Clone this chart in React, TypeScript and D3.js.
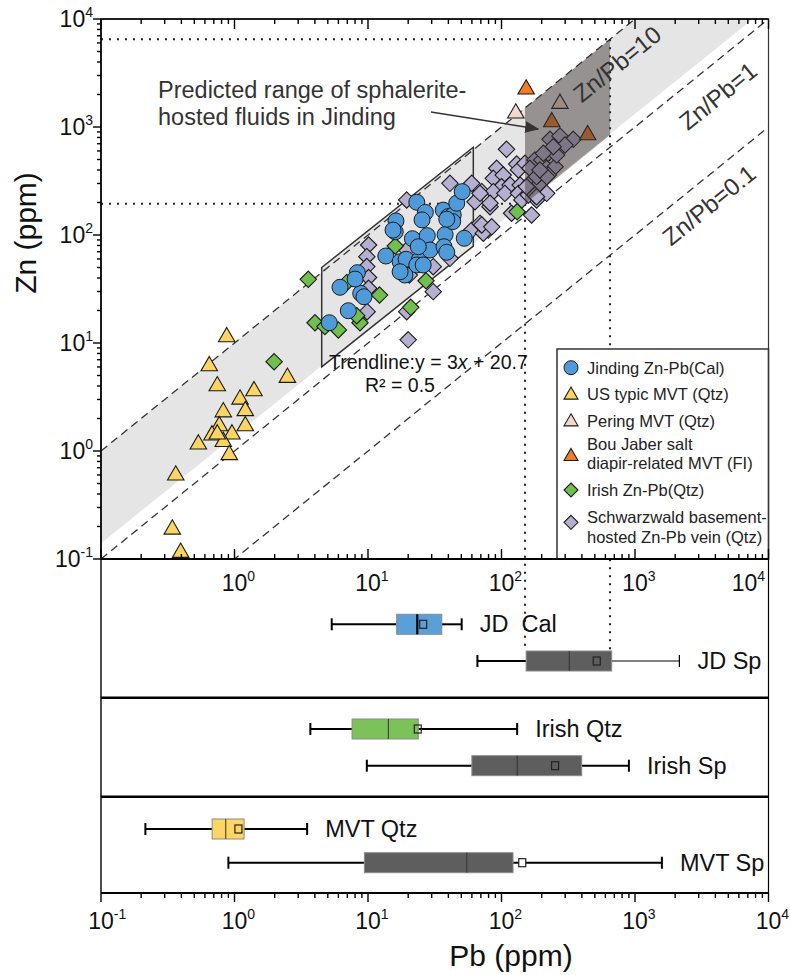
import React from 'react';
import * as d3 from 'd3';

// ---- data (ppm) ----
const jindingCal: [number, number][] = [
  [5.13, 15.4], [7.12, 19.9], [6.17, 32.8], [8.32, 44.8], [8.82, 28.8], [9.33, 26.8],
  [13.6, 63.9], [16.2, 135], [16.0, 107], [23.2, 201], [26.9, 162], [25.4, 138],
  [21.5, 92.4], [27.8, 98.6], [17.4, 56.6], [19.3, 59.6], [24.2, 58.7], [23.2, 52.8],
  [25.9, 52.8], [29.1, 72.6], [18.9, 42.6], [17.4, 45.7], [23.8, 77.9], [37.8, 101],
  [37.1, 77.9], [38.9, 69.2], [36.6, 170], [39.9, 148], [43.5, 153], [46.2, 197],
  [50.8, 252], [52.6, 93.2], [43.1, 133], [38.9, 140], [8.0, 39.1], [15.4, 111],
];
const usMvt: [number, number][] = [
  [0.874, 11.6], [0.647, 6.25], [0.743, 4.08], [1.4, 3.67], [1.1, 3.07], [0.824, 2.34],
  [1.205, 2.4], [0.769, 1.74], [1.205, 1.74], [0.678, 1.43], [0.957, 1.46], [0.824, 1.245],
  [0.536, 1.18], [0.914, 0.94], [2.49, 4.88], [0.363, 0.608], [0.342, 0.192], [0.395, 0.117],
  [0.743, 1.46],
];
const peringMvt: [number, number][] = [[128, 1368], [274, 1679]];
const bouJaber: [number, number][] = [[153, 2281], [238, 1136], [442, 861]];
const irishQtz: [number, number][] = [
  [3.57, 38.9], [6.92, 36.2], [12.2, 27.8], [16.0, 79.1], [27.2, 37.7], [20.9, 21.4],
  [4.01, 15.4], [6.0, 13.2], [8.71, 15.4], [8.23, 17.9], [1.98, 6.71], [131, 164], [4.76, 14.2],
];
const schwarzwald: [number, number][] = [
  [10.1, 80.8], [9.8, 63], [9.8, 51], [10.1, 40.4], [10.1, 32.1], [9.85, 19.5], [19.5, 72.6],
  [30.8, 50.9], [41.1, 60.8], [30.8, 29.9], [19.5, 19.5], [20.0, 10.7], [20.4, 42.6], [19.5, 211],
  [41.1, 301], [59.8, 301], [71.1, 252], [63.3, 203], [70.2, 119], [59.8, 111], [79.6, 111],
  [73.1, 104], [69.0, 128], [82.0, 183], [109, 622], [130, 454], [92, 415], [86.8, 335],
  [103, 359], [134, 400], [100, 280], [116, 290], [138, 290], [86.8, 252], [106, 243],
  [134, 243], [69.0, 243], [82.0, 197], [71.1, 124], [84.5, 119], [119, 159], [168, 153],
  [142, 211], [183, 211], [159, 235], [178, 235], [218, 243], [163, 301], [194, 301],
  [150, 461], [178, 495], [200, 495], [163, 415], [218, 415], [252, 429], [189, 359],
  [224, 359], [231, 769], [274, 826], [345, 769], [299, 681], [224, 571], [259, 550],
  [244, 657], [206, 571], [154, 280], [183, 347], [218, 347], [194, 400], [183, 226],
];

// reference lines and fields
const ratioLines = [10, 1, 0.1];
const ratioLabels = ['Zn/Pb=10', 'Zn/Pb=1', 'Zn/Pb=0.1'];
const bandLower: [number, number][] = [[0.1, 0.14], [7650, 10000]];
const trendBox: [number, number][] = [[4.5, 50], [61.5, 650], [61.5, 79], [4.5, 6.0]];
const predicted: [number, number][] = [[150, 1500], [650, 6500], [650, 845], [150, 195]];
const predictedPb = [150, 650];
const predictedZn = [195, 6500];
const arrowPts: [number, number][] = [[29.6, 1377], [188, 958]];

// box plots (Pb ppm)
const boxNames = ['JD  Cal', 'JD Sp', 'Irish Qtz', 'Irish Sp', 'MVT Qtz', 'MVT Sp'];
const boxLow = [5.35, 66, 3.7, 9.8, 0.215, 0.9];
const boxQ1 = [16.4, 153, 7.6, 60, 0.68, 9.4];
const boxMed = [23.4, 322, 14.2, 131, 0.86, 55];
const boxQ3 = [35.7, 669, 23.8, 399, 1.18, 122];
const boxHigh = [50.3, 2150, 131, 900, 3.5, 1590];
const boxMean = [25.9, 517, 23.6, 252, 1.07, 143];
const boxColors = ['#5a9fd8', '#5e5e5e', '#7cc15a', '#5e5e5e', '#fdd565', '#5e5e5e'];

const legendLabels = [
  ['Jinding Zn-Pb(Cal)'], ['US typic MVT (Qtz)'], ['Pering MVT (Qtz)'],
  ['Bou Jaber salt', 'diapir-related MVT (FI)'], ['Irish Zn-Pb(Qtz)'],
  ['Schwarzwald basement-', 'hosted Zn-Pb vein (Qtz)'],
];

const exps = [-1, 0, 1, 2, 3, 4];

const FONT = 'Liberation Sans, Arial, sans-serif';
const X0 = 101, X1 = 768.5, TOP = 19, MID = 559, P1 = 697.7, P2 = 796.7, BOT = 893;
const rowY = [624.3, 661, 729, 765.7, 829, 862.7];

const triPath = (s: number) => {
  const h = s * 0.866;
  return `M0,${-h * 0.6}L${s / 2},${h * 0.4}L${-s / 2},${h * 0.4}Z`;
};
const diaPath = (r: number) => `M0,${-r}L${r},0L0,${r}L${-r},0Z`;

function Marker({ kind, fill, cx, cy, size }: any) {
  if (kind === 'circle') return <circle cx={cx} cy={cy} r={size} fill={fill} stroke="#1a1a1a" strokeWidth={1} />;
  const d = kind === 'tri' ? triPath(size) : diaPath(size);
  return <path d={d} transform={`translate(${cx},${cy})`} fill={fill} stroke="#1a1a1a" strokeWidth={1.1} strokeLinejoin="miter" />;
}

export default function App() {
  const x = d3.scaleLog().domain([0.1, 1e4]).range([X0, X1]);
  const y = d3.scaleLog().domain([0.1, 1e4]).range([MID, TOP]);
  const line = d3.line<[number, number]>().x(d => x(d[0])).y(d => y(d[1]));

  const minor: number[] = [];
  exps.slice(0, 5).forEach(e => { for (let m = 2; m <= 9; m++) minor.push(m * Math.pow(10, e)); });
  const major = exps.map(e => Math.pow(10, e));

  const band: [number, number][] = [
    [0.1, 1], [1000, 10000], bandLower[1], bandLower[0],
  ];
  const angle = -Math.atan((y(1) - y(10)) / (x(10) - x(1))) * 180 / Math.PI;

  const series = [
    { data: schwarzwald, kind: 'dia', fill: '#b6b0d0', size: 8.2 },
    { data: irishQtz, kind: 'dia', fill: '#71bf4e', size: 8.2 },
    { data: jindingCal, kind: 'circle', fill: '#4f9bd9', size: 8 },
    { data: usMvt, kind: 'tri', fill: '#fcd462', size: 16.5 },
    { data: peringMvt, kind: 'tri', fill: '#f3d8ce', size: 16.5 },
    { data: bouJaber, kind: 'tri', fill: '#f07c26', size: 16.5 },
  ];
  const legendSeries = [
    { kind: 'circle', fill: '#4f9bd9', size: 7 },
    { kind: 'tri', fill: '#fcd462', size: 14 },
    { kind: 'tri', fill: '#f3d8ce', size: 14 },
    { kind: 'tri', fill: '#f07c26', size: 14 },
    { kind: 'dia', fill: '#71bf4e', size: 7 },
    { kind: 'dia', fill: '#b6b0d0', size: 7 },
  ];
  const legendMarkerY = [367.7, 394.3, 421, 455.7, 490, 522.3];
  const legendTextY = [[367.7], [394.3], [421], [444, 462.7], [490], [517.3, 537.3]];

  const ratioLabelPos: [number, number][] = [[617, 64], [718, 96], [709, 205]];

  return (
    <svg width={790} height={975} style={{ position: 'absolute', left: 0, top: 0, background: '#fff' }} fontFamily={FONT}>
      <defs>
        <clipPath id="plotClip"><rect x={X0} y={TOP} width={X1 - X0} height={MID - TOP} /></clipPath>
        <marker id="arrowHead" viewBox="0 0 10 10" refX="9" refY="5" markerWidth="9" markerHeight="9" orient="auto">
          <path d="M0,1L10,5L0,9Z" fill="#333" />
        </marker>
      </defs>

      <g clipPath="url(#plotClip)">
        <path d={line(band) + 'Z'} fill="#e5e5e5" />
        <path d={line(trendBox) + 'Z'} fill="#e5e5e5" />
        {ratioLines.map(r => (
          <path key={r} d={line([[0.1, 0.1 * r], [1e4, 1e4 * r]]) || ''} stroke="#333" strokeWidth={1.3} strokeDasharray="8,5" fill="none" />
        ))}
        <path d={line(trendBox) + 'Z'} fill="none" stroke="#333" strokeWidth={1.5} />
      </g>

      {/* dotted guides */}
      <g stroke="#222" strokeWidth={2} strokeDasharray="2,6" fill="none">
        <line x1={X0} x2={x(predictedPb[1])} y1={y(predictedZn[1])} y2={y(predictedZn[1])} />
        <line x1={X0} x2={x(predictedPb[0])} y1={y(predictedZn[0])} y2={y(predictedZn[0])} />
        <line x1={x(predictedPb[0])} x2={x(predictedPb[0])} y1={y(predictedZn[0])} y2={rowY[1] - 10} />
        <line x1={x(predictedPb[1])} x2={x(predictedPb[1])} y1={y(predictedZn[1])} y2={rowY[1] - 10} />
      </g>

      {series.map((s, i) => (
        <g key={i}>
          {s.data.map((d, j) => (
            <Marker key={j} kind={s.kind} fill={s.fill} size={s.size} cx={x(d[0])} cy={y(d[1])} />
          ))}
        </g>
      ))}

      <path d={line(predicted) + 'Z'} fill="#3d3535" fillOpacity={0.47} />

      {ratioLabels.map((t, i) => (
        <text key={t} transform={`translate(${ratioLabelPos[i][0]},${ratioLabelPos[i][1]}) rotate(${angle})`}
          textAnchor="middle" dominantBaseline="central" fontSize={24} fill="#333">{t}</text>
      ))}

      <text x={158} y={98} fontSize={23.5} fill="#333">Predicted range of sphalerite-</text>
      <text x={158} y={125} fontSize={23.5} fill="#333">hosted fluids in Jinding</text>
      <line x1={x(arrowPts[0][0])} y1={y(arrowPts[0][1])} x2={x(arrowPts[1][0])} y2={y(arrowPts[1][1])}
        stroke="#333" strokeWidth={1.6} markerEnd="url(#arrowHead)" />

      <text x={329} y={369} fontSize={19.5} fill="#111">Trendline:y = 3<tspan fontStyle="italic">x</tspan> + 20.7</text>
      <text x={365} y={392} fontSize={19.5} fill="#111">R² = 0.5</text>

      {/* legend */}
      <rect x={557} y={349} width={X1 - 557} height={MID - 349} fill="#fff" stroke="#333" strokeWidth={1.5} />
      {legendSeries.map((s, i) => (
        <g key={i}>
          <Marker kind={s.kind} fill={s.fill} size={s.size} cx={571} cy={legendMarkerY[i]} />
          {legendLabels[i].map((t, k) => (
            <text key={k} x={587} y={legendTextY[i][k]} dominantBaseline="central" fontSize={16.5} fill="#222">{t}</text>
          ))}
        </g>
      ))}

      {/* frame of scatter panel */}
      <rect x={X0} y={TOP} width={X1 - X0} height={MID - TOP} fill="none" stroke="#333" strokeWidth={1.2} />
      <line x1={X0} x2={X1} y1={TOP} y2={TOP} stroke="#000" strokeWidth={1.6} />
      <line x1={X0} x2={X0} y1={TOP} y2={MID} stroke="#000" strokeWidth={1.6} />
      <line x1={X0} x2={X1} y1={MID} y2={MID} stroke="#000" strokeWidth={2} />

      {/* ticks */}
      <g stroke="#000" strokeWidth={1.4}>
        {major.map(v => <line key={'ly' + v} x1={X0 - 8} x2={X0} y1={y(v)} y2={y(v)} />)}
        {minor.map(v => <line key={'lym' + v} x1={X0 - 4} x2={X0} y1={y(v)} y2={y(v)} />)}
        {major.map(v => <line key={'tx' + v} x1={x(v)} x2={x(v)} y1={TOP} y2={TOP + 10} />)}
        {minor.map(v => <line key={'txm' + v} x1={x(v)} x2={x(v)} y1={TOP} y2={TOP + 5} />)}
        {major.map(v => <line key={'mx' + v} x1={x(v)} x2={x(v)} y1={MID} y2={MID - 10} />)}
        {minor.map(v => <line key={'mxm' + v} x1={x(v)} x2={x(v)} y1={MID} y2={MID - 5} />)}
        {major.map(v => <line key={'bx' + v} x1={x(v)} x2={x(v)} y1={BOT} y2={BOT + 9} />)}
        {minor.map(v => <line key={'bxm' + v} x1={x(v)} x2={x(v)} y1={BOT} y2={BOT + 5} />)}
      </g>

      {/* y tick labels */}
      {exps.map(e => (
        <text key={'yl' + e} x={93} y={y(Math.pow(10, e)) + 8} textAnchor="end" fontSize={23} fill="#111">
          10<tspan dy={-10} fontSize={14}>{e}</tspan>
        </text>
      ))}
      {/* x tick labels inside JD panel */}
      {exps.slice(1).map(e => {
        const cx = e === 4 ? x(1e4) - 24 : x(Math.pow(10, e));
        return (
          <text key={'xl' + e} x={cx - 12.8} y={591} fontSize={23} fill="#111">
            10<tspan dy={-10} fontSize={14}>{e}</tspan>
          </text>
        );
      })}
      {/* bottom axis labels */}
      {exps.map(e => (
        <text key={'bl' + e} x={x(Math.pow(10, e)) - 12.8} y={929} fontSize={23} fill="#111">
          10<tspan dy={-10} fontSize={14}>{e}</tspan>
        </text>
      ))}

      <text transform={`translate(36,${233}) rotate(-90)`} textAnchor="middle" fontSize={30} fill="#111">Zn (ppm)</text>
      <text x={511} y={966} textAnchor="middle" fontSize={30} fill="#111">Pb (ppm)</text>

      {/* box plot panels */}
      <line x1={X0} x2={X0} y1={MID} y2={BOT} stroke="#000" strokeWidth={1.4} />
      <line x1={X1} x2={X1} y1={MID} y2={BOT} stroke="#000" strokeWidth={1.2} />
      <line x1={X0} x2={X1} y1={P1} y2={P1} stroke="#000" strokeWidth={2.5} />
      <line x1={X0} x2={X1} y1={P2} y2={P2} stroke="#000" strokeWidth={2.5} />
      <line x1={X0} x2={X1} y1={BOT} y2={BOT} stroke="#000" strokeWidth={2.2} />

      {boxNames.map((name, i) => {
        const cy = rowY[i];
        const thin = i === 1;
        return (
          <g key={name}>
            <line x1={x(boxLow[i])} x2={x(boxQ1[i])} y1={cy} y2={cy} stroke="#000" strokeWidth={2} />
            <line x1={x(boxQ3[i])} x2={x(boxHigh[i])} y1={cy} y2={cy} stroke="#000" strokeWidth={thin ? 1.2 : 2} />
            <line x1={x(boxLow[i])} x2={x(boxLow[i])} y1={cy - 6} y2={cy + 6} stroke="#000" strokeWidth={2} />
            <line x1={x(boxHigh[i])} x2={x(boxHigh[i])} y1={cy - 6} y2={cy + 6} stroke="#000" strokeWidth={thin ? 1.2 : 2} />
            <rect x={x(boxQ1[i])} y={cy - 10} width={x(boxQ3[i]) - x(boxQ1[i])} height={20}
              fill={boxColors[i]} stroke="#8a8a8a" strokeWidth={1} />
            <line x1={x(boxMed[i])} x2={x(boxMed[i])} y1={cy - 10} y2={cy + 10}
              stroke={i === 0 ? '#000' : '#333'} strokeWidth={i === 0 ? 2.2 : 1} />
            <rect x={x(boxMean[i]) - 3.5} y={cy - 4} width={7} height={8}
              fill={boxMean[i] > boxQ3[i] ? '#fff' : 'none'} stroke="#222" strokeWidth={1.2} />
            <text x={x(boxHigh[i]) + 18} y={cy} dominantBaseline="central" fontSize={23.5} fill="#111"
              style={{ whiteSpace: 'pre' }}>{name}</text>
          </g>
        );
      })}
    </svg>
  );
}
